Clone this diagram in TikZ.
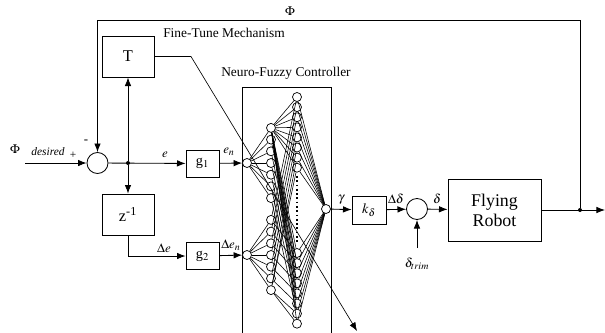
\documentclass[tikz,border=0pt]{standalone}
\usepackage{mathptmx}
\usepackage{fontspec}
\setmainfont{Liberation Serif}
\usetikzlibrary{arrows.meta}

\begin{document}
\begin{tikzpicture}[x=0.7pt,y=-0.7pt,line width=0.6pt,>={Latex[length=6pt,width=4.6pt]},
  blk/.style={draw,inner sep=0,font=\fontsize{10}{12}\selectfont},
  sumnode/.style={circle,draw,inner sep=0,minimum size=14.7pt},
  neuron/.style={circle,draw,fill=white,inner sep=0,minimum size=6.3pt,line width=0.5pt},
  net/.style={line width=0.4pt},
  lbl/.style={inner sep=0,font=\fontsize{9}{10}\selectfont},
  dot/.style={circle,fill,inner sep=0,minimum size=2.8pt}]
  \useasboundingbox (0,0) rectangle (605,333);
  \node[sumnode] (sum1) at (97.5,163) {};
  \node[dot] (j1) at (128,163) {};
  \node[blk,minimum width=36.4pt,minimum height=28.7pt,font=\fontsize{11.5}{13}\selectfont] (T) at (128,56.5) {T};
  \node[blk,minimum width=36.4pt,minimum height=28.7pt,font=\fontsize{11.5}{13}\selectfont] (z) at (128,214.5) {z\textsuperscript{-1}};
  \node[blk,minimum width=23.1pt,minimum height=18.9pt] (g1) at (202.5,163.5) {g$_1$};
  \node[blk,minimum width=23.1pt,minimum height=18.9pt] (g2) at (202.5,256) {g$_2$};
  \node[blk,minimum width=23.8pt,minimum height=19.6pt] (k) at (369,210) {$k_\delta$};
  \node[sumnode] (sum2) at (417,209) {};
  \node[blk,minimum width=65.1pt,minimum height=43.4pt,align=center,font=\fontsize{12.5}{14}\selectfont] (robot) at (494.5,210) {Flying\\Robot};
  \node[dot] (fb) at (580,210) {};
  \coordinate (in) at (25,163);
  \coordinate (top) at (97.5,20);
  \coordinate (yout) at (605,210);
  \coordinate (trim) at (417,248);
  \coordinate (bend) at (191,56.5);
  \coordinate (ftend) at (357,331);
  % controller
  \draw (242,333) -- (242,87) -- (331,87) -- (331,333);
  \node[neuron] (en) at (247,163) {};
  \node[neuron] (den) at (247,255) {};
  \node[neuron] (o) at (326,209) {};
  \foreach \i in {1,...,7} {
    \node[neuron] (u\i) at (271,{163+(\i-4)*11.7}) {};
    \node[neuron] (l\i) at (271,{255+(\i-4)*11.7}) {};
  }
  \foreach \j in {1,...,8} {
    \node[neuron] (r\j) at (297,{97+(\j-1)*10.1}) {};
    \node[neuron] (s\j) at (297,{253+(\j-1)*10.1}) {};
  }
  \foreach \i in {1,...,7} {\draw[net] (en) -- (u\i); \draw[net] (den) -- (l\i);}
  \foreach \j in {1,...,8} {
    \pgfmathtruncatemacro\k{min(\j,7)}
    \draw[net] (u1) -- (r\j); \draw[net] (u1) -- (s\j);
    \draw[net] (l\k) -- (r\j); \draw[net] (l\k) -- (s\j);
    \draw[net] (r\j) -- (o); \draw[net] (s\j) -- (o);
  }
  \foreach \i in {2,...,7} \draw[net] (u\i) -- (s\i);
  \draw[line width=1.2pt,dash pattern=on 1.2pt off 1.8pt] (297,176) -- (297,244);
  % signal lines
  \draw[->] (in) -- (sum1);
  \draw[->] (sum1) -- (g1);
  \draw[->] (j1) -- (T);
  \draw[->] (j1) -- (z);
  \draw[->] (z) |- (g2);
  \draw[->] (g1) -- (en);
  \draw[->] (g2) -- (den);
  \draw[->] (o) -- (k);
  \draw[->] (k) -- (sum2);
  \draw[->] (sum2) -- (robot);
  \draw[->] (trim) -- (sum2);
  \draw[->] (robot) -- (yout);
  \draw[->] (fb) |- (top) -- (sum1);
  \draw[->,line width=0.45pt] (T) -- (bend) -- (ftend);
  % labels
  \node[font=\fontsize{9.4}{11}\selectfont] (ftm) at (224,33) {Fine-Tune Mechanism};
  \node[font=\fontsize{9.4}{11}\selectfont] (nfc) at (286,73) {Neuro-Fuzzy Controller};
  \node[lbl] (phi) at (290,11) {$\Phi$};
  \node[lbl] (phid) at (15,149) {$\Phi$};
  \node[lbl,font=\fontsize{8}{9}\itshape] (des) at (48,152) {desired};
  \node[lbl,font=\fontsize{8}{9}\selectfont] (plus) at (73,155) {+};
  \node[lbl] (minus) at (86,142) {-};
  \node[lbl] (le) at (165,155) {$e$};
  \node[lbl] (len) at (229,152) {$e_n$};
  \node[lbl] (lde) at (164,248) {$\Delta e$};
  \node[lbl] (lden) at (231,245) {$\Delta e_n$};
  \node[lbl] (lg) at (341,200) {$\gamma$};
  \node[lbl] (ldd) at (396,199) {$\Delta\delta$};
  \node[lbl] (ld) at (437,199) {$\delta$};
  \node[lbl] (ltrim) at (417,264) {$\delta_{trim}$};
\end{tikzpicture}
\end{document}
